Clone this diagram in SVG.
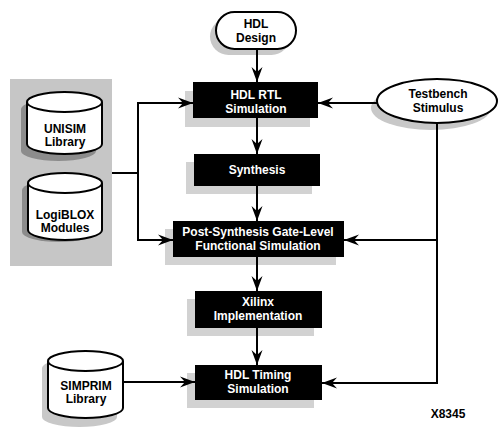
<svg xmlns="http://www.w3.org/2000/svg" width="503" height="435" viewBox="0 0 503 435">
<defs>
<style>
.box{fill:#000}
.shadow{fill:#d2d2d2}
.dshadow{fill:#8c8c8c}
.lshadow{fill:#c8c8c8}
.out{fill:#fff;stroke:#000;stroke-width:2}
.wt{fill:#fff;font-family:"Liberation Sans",Arial,sans-serif;font-weight:bold;font-size:12px;text-anchor:middle}
.bt{fill:#000;font-family:"Liberation Sans",Arial,sans-serif;font-weight:bold;font-size:12px;text-anchor:middle}
.wire{fill:none;stroke:#000;stroke-width:2}
.arr{fill:none;stroke:#000;stroke-width:2;marker-end:url(#ah)}
</style>
<marker id="ah" markerUnits="userSpaceOnUse" markerWidth="16" markerHeight="12" viewBox="-15 -6 16 12" refX="0" refY="0" orient="auto">
<path d="M0,0 L-15,-5.5 L-10,0 L-15,5.5 Z" fill="#000"/>
</marker>
</defs>
<rect x="0" y="0" width="503" height="435" fill="#fff"/>

<rect id="panel" x="10" y="79" width="102" height="187" fill="#c6c6c6"/>

<g id="hdl-design">
<rect class="lshadow" x="210" y="18" width="80" height="37" rx="18.5"/>
<rect class="out" x="216" y="12" width="80" height="37" rx="18.5"/>
<text class="bt" x="256" y="28">HDL</text>
<text class="bt" x="256" y="42">Design</text>
</g>

<g id="testbench">
<ellipse class="lshadow" cx="431" cy="108" rx="60" ry="22"/>
<ellipse class="out" cx="437" cy="101" rx="60" ry="22"/>
<text class="bt" x="438" y="98">Testbench</text>
<text class="bt" x="438" y="112">Stimulus</text>
</g>

<g id="unisim">
<path class="dshadow" d="M21,109 a37.5,10 0 0 1 75,0 v42 a37.5,10 0 0 1 -75,0 Z"/>
<path class="out" d="M27,102 a37.5,10 0 0 1 75,0 v42 a37.5,10 0 0 1 -75,0 Z"/>
<path class="wire" d="M27,102 a37.5,10 0 0 0 75,0"/>
<text class="bt" x="65" y="133">UNISIM</text>
<text class="bt" x="65" y="146">Library</text>
</g>

<g id="logiblox">
<path class="dshadow" d="M22,190 a37,10 0 0 1 74,0 v42 a37,10 0 0 1 -74,0 Z"/>
<path class="out" d="M28,183 a37,10 0 0 1 74,0 v47 a37,10 0 0 1 -74,0 Z"/>
<path class="wire" d="M28,183 a37,10 0 0 0 74,0"/>
<text class="bt" x="65" y="219">LogiBLOX</text>
<text class="bt" x="65" y="232">Modules</text>
</g>

<g id="simprim">
<path class="lshadow" d="M42,368 a37.5,10 0 0 1 75,0 v49 a37.5,10 0 0 1 -75,0 Z"/>
<path class="out" d="M48,361 a37.5,10 0 0 1 75,0 v47 a37.5,10 0 0 1 -75,0 Z"/>
<path class="wire" d="M48,361 a37.5,10 0 0 0 75,0"/>
<text class="bt" x="86" y="390">SIMPRIM</text>
<text class="bt" x="86" y="403">Library</text>
</g>

<g id="rtl-sim">
<rect class="shadow" x="185" y="91" width="125" height="36"/>
<rect class="box" x="193" y="82" width="125" height="36"/>
<text class="wt" x="256" y="99">HDL RTL</text>
<text class="wt" x="256" y="113">Simulation</text>
</g>

<g id="synthesis">
<rect class="shadow" x="186" y="162" width="126" height="32"/>
<rect class="box" x="194" y="154" width="126" height="32"/>
<text class="wt" x="257" y="174">Synthesis</text>
</g>

<g id="post-synth">
<rect class="shadow" x="165" y="229" width="171" height="36"/>
<rect class="box" x="173" y="221" width="171" height="36"/>
<text class="wt" x="258" y="236">Post-Synthesis Gate-Level</text>
<text class="wt" x="258" y="250">Functional Simulation</text>
</g>

<g id="xilinx-impl">
<rect class="shadow" x="187" y="299" width="127" height="37"/>
<rect class="box" x="195" y="291" width="127" height="37"/>
<text class="wt" x="258" y="306">Xilinx</text>
<text class="wt" x="258" y="320">Implementation</text>
</g>

<g id="timing-sim">
<rect class="shadow" x="187" y="373" width="127" height="35"/>
<rect class="box" x="195" y="365" width="127" height="35"/>
<text class="wt" x="258" y="379">HDL Timing</text>
<text class="wt" x="258" y="393">Simulation</text>
</g>

<g id="connectors">
<line class="arr" x1="257" y1="49" x2="257" y2="82"/>
<line class="arr" x1="257" y1="118" x2="257" y2="154"/>
<line class="arr" x1="257" y1="186" x2="257" y2="221"/>
<line class="arr" x1="257" y1="257" x2="257" y2="291"/>
<line class="arr" x1="257" y1="328" x2="257" y2="365"/>
<line class="wire" x1="112" y1="173" x2="138" y2="173"/>
<line class="wire" x1="138" y1="102" x2="138" y2="241"/>
<line class="arr" x1="137" y1="103" x2="193" y2="103"/>
<line class="arr" x1="137" y1="240" x2="173" y2="240"/>
<line class="arr" x1="378" y1="103" x2="318" y2="103"/>
<line class="wire" x1="437" y1="123" x2="437" y2="384"/>
<line class="arr" x1="438" y1="240" x2="344" y2="240"/>
<line class="arr" x1="438" y1="383" x2="322" y2="383"/>
<line class="arr" x1="123" y1="382" x2="195" y2="382"/>
</g>

<text class="bt" x="448" y="418">X8345</text>
</svg>
